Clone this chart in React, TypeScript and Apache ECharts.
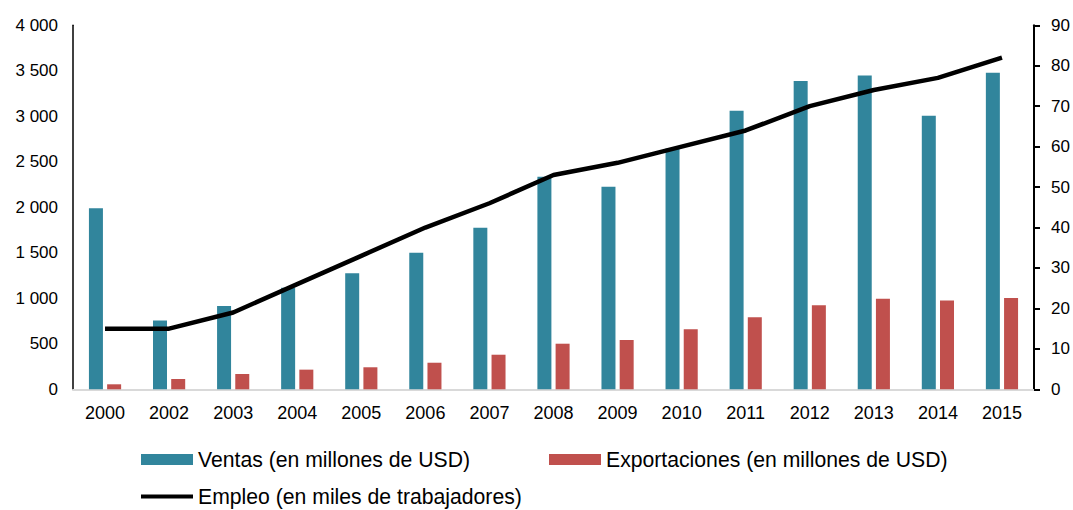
import React, { useEffect, useRef } from "react";
import * as echarts from "echarts";

const years = ["2000", "2002", "2003", "2004", "2005", "2006", "2007", "2008", "2009", "2010", "2011", "2012", "2013", "2014", "2015"];
const ventas = [1990, 755, 915, 1117, 1275, 1500, 1775, 2335, 2225, 2645, 3060, 3388, 3448, 3005, 3478];
const exportaciones = [55, 113, 168, 216, 242, 292, 380, 501, 542, 660, 791, 923, 994, 975, 1002];
const empleo = [15, 15, 19, 26, 33, 40, 46, 53, 56, 60, 64, 70, 74, 77, 82];

const FONT = "'Liberation Sans', Arial, sans-serif";
const LEGEND_FONT = 21.2;

function fmtThousands(v: number): string {
  const s = String(Math.round(v));
  return s.replace(/\B(?=(\d{3})+(?!\d))/g, " ");
}

export default function App() {
  const ref = useRef<HTMLDivElement>(null);
  useEffect(() => {
    if (!ref.current) return;
    const chart = echarts.init(ref.current, undefined, { renderer: "svg" });
    chart.setOption({
      animation: false,
      backgroundColor: "#ffffff",
      textStyle: { fontFamily: FONT },
      grid: { left: 73, right: 39, top: 25.3, bottom: 120.7, containLabel: false },
      legend: [
        {
          data: [{ name: "Ventas (en millones de USD)", icon: "rect" }],
          left: 141,
          top: 449,
          padding: 0,
          itemWidth: 52,
          itemHeight: 11,
          textStyle: { fontSize: LEGEND_FONT, color: "#000", fontFamily: FONT },
        },
        {
          data: [{ name: "Exportaciones (en millones de USD)", icon: "rect" }],
          left: 549,
          top: 449,
          padding: 0,
          itemWidth: 52,
          itemHeight: 11,
          textStyle: { fontSize: LEGEND_FONT, color: "#000", fontFamily: FONT },
        },
        {
          data: [{ name: "Empleo (en miles de trabajadores)", icon: "rect" }],
          left: 141,
          top: 486,
          padding: 0,
          itemWidth: 52,
          itemHeight: 4,
          textStyle: { fontSize: LEGEND_FONT, color: "#000", fontFamily: FONT },
        },
      ],
      xAxis: {
        type: "category",
        data: years,
        axisLine: { show: true, lineStyle: { color: "#d9d9d9", width: 2 } },
        axisTick: { show: false },
        axisLabel: { color: "#000", fontSize: 18, margin: 15, fontFamily: FONT, interval: 0 },
        splitLine: { show: false },
      },
      yAxis: [
        {
          type: "value",
          min: 0,
          max: 4000,
          interval: 500,
          position: "left",
          axisLine: { show: true, lineStyle: { color: "#000", width: 1.5 } },
          axisTick: { show: false },
          splitLine: { show: false },
          axisLabel: {
            color: "#000",
            fontSize: 17,
            margin: 15,
            fontFamily: FONT,
            formatter: (v: number) => fmtThousands(v),
          },
        },
        {
          type: "value",
          min: 0,
          max: 90,
          interval: 10,
          position: "right",
          axisLine: { show: true, lineStyle: { color: "#000", width: 2 } },
          axisTick: { show: true, inside: false, length: 6, lineStyle: { color: "#000", width: 2 } },
          splitLine: { show: false },
          axisLabel: { color: "#000", fontSize: 17, margin: 17, fontFamily: FONT },
        },
      ],
      series: [
        {
          name: "Ventas (en millones de USD)",
          type: "bar",
          data: ventas,
          barWidth: 14,
          barGap: "30%",
          itemStyle: { color: "#31859c" },
        },
        {
          name: "Exportaciones (en millones de USD)",
          type: "bar",
          data: exportaciones,
          barWidth: 14,
          itemStyle: { color: "#c0504d" },
        },
        {
          name: "Empleo (en miles de trabajadores)",
          type: "line",
          yAxisIndex: 1,
          data: empleo,
          symbol: "none",
          lineStyle: { color: "#000", width: 4.5 },
          itemStyle: { color: "#000" },
        },
      ],
    });
    return () => chart.dispose();
  }, []);
  return (
    <div
      ref={ref}
      style={{ position: "fixed", left: 0, top: 0, width: 1073, height: 510, background: "#fff" }}
    />
  );
}
